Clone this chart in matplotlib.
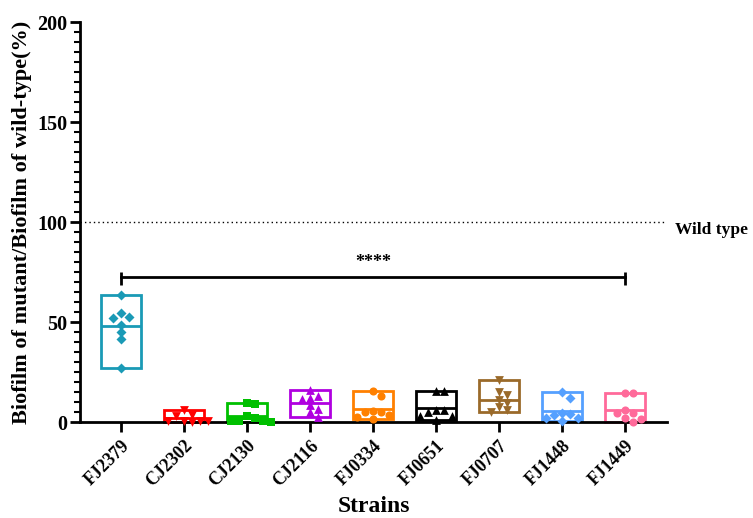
import matplotlib
matplotlib.use("Agg")
import matplotlib.pyplot as plt
import numpy as np

plt.rcParams['font.family'] = ['Liberation Serif', 'DejaVu Serif']
plt.rcParams['font.weight'] = 'bold'

strains = ["FJ2379", "CJ2302", "CJ2130", "CJ2116", "FJ0334",
           "FJ0651", "FJ0707", "FJ1448", "FJ1449"]
fj2379 = [63.5, 54.3, 52.6, 51.8, 48.5, 44.8, 41.5, 26.8]
cj2302 = [6.0, 3.5, 3.0, 0.6, 0.5, 0.4, 0.3, 0.2]
cj2130 = [9.7, 8.8, 3.0, 2.2, 0.5, 0.4, 0.3, 0.2]
cj2116 = [16.0, 13.0, 12.2, 11.3, 8.5, 6.3, 5.0, 2.5]
fj0334 = [15.5, 13.2, 5.5, 5.2, 5.0, 3.5, 2.5, 1.5]
fj0651 = [15.5, 15.5, 6.0, 6.0, 5.0, 3.0, 3.0, 1.0]
fj0707 = [21.0, 15.0, 13.5, 11.0, 9.5, 7.5, 6.0, 4.8]
fj1448 = [15.2, 12.0, 4.7, 4.0, 3.5, 2.0, 1.8, 0.7]
fj1449 = [14.5, 14.5, 6.0, 4.3, 4.3, 1.8, 1.5, 0.2]
groups = [fj2379, cj2302, cj2130, cj2116, fj0334, fj0651, fj0707, fj1448, fj1449]
wild_type = 100
sig_level = 72.5
sig_text = "****"

colors = ["#1a9ab6", "#ff0000", "#00c000", "#b000e0", "#ff8000",
          "#000000", "#9a6a2a", "#55a0ff", "#ff6a9a"]
markers = ["D", "v", "s", "^", "o", "^", "v", "D", "o"]
msizes = [26, 40, 34, 40, 34, 40, 40, 26, 34]

W, H = 753, 518
fig = plt.figure(figsize=(W / 100, H / 100), dpi=100)
ax = fig.add_axes([80 / W, (H - 422) / H, (667 - 80) / W, 400 / H])
ax.set_xlim(-0.651, 8.667)
ax.set_ylim(0, 200)

px_x = 63.0   # px per category unit
px_y = 2.0    # px per value unit


def swarm(vals, thr=6.5, step=8.0):
    placed = []
    order = sorted(range(len(vals)), key=lambda k: -vals[k])
    res = [0.0] * len(vals)
    for k in order:
        v = vals[k]
        cands = [0.0]
        for m in range(1, 10):
            cands += [m * step, -m * step]
        for c in cands:
            ok = True
            for (pv, pc) in placed:
                if np.hypot((v - pv) * px_y, c - pc) < thr:
                    ok = False
                    break
            if ok:
                break
        placed.append((v, c))
        res[k] = c / px_x
    return res


bw = 0.64
for i, vals in enumerate(groups):
    lo, hi, mean = min(vals), max(vals), float(np.mean(vals))
    ax.bar(i, hi - lo, bottom=lo, width=bw, fill=False, edgecolor=colors[i],
           linewidth=2.0, zorder=2, clip_on=False)
    ax.hlines(mean, i - bw / 2, i + bw / 2, colors=colors[i], linewidth=2.0, zorder=2)
    offs = swarm(vals)
    ax.scatter(np.array(offs) + i, vals, marker=markers[i], s=msizes[i],
               color=colors[i], linewidths=0, zorder=3, clip_on=False)

# wild type reference
ax.axhline(wild_type, color="black", linestyle=(0, (1, 2.2)), linewidth=1.0, zorder=1)
ax.text(1.013, wild_type, "Wild type", transform=ax.get_yaxis_transform(),
        ha="left", va="top", fontsize=12.5, fontweight="bold")

# significance bracket
ax.plot([0, 8], [sig_level, sig_level], color="black", linewidth=2.0, zorder=2)
ax.vlines([0, 8], sig_level - 4, sig_level + 2.5, color="black", linewidth=2.0)
ax.text(4, sig_level + 3, sig_text, ha="center", va="bottom", fontsize=13, fontweight="bold")

# axes styling
for s in ["top", "right"]:
    ax.spines[s].set_visible(False)
for s in ["left", "bottom"]:
    ax.spines[s].set_linewidth(2.0)
ax.set_yticks([0, 50, 100, 150, 200])
ax.set_yticks(np.arange(0, 201, 5), minor=True)
ax.tick_params(axis="y", which="major", length=7, width=2.0, labelsize=14.5, pad=2)
ax.tick_params(axis="y", which="minor", length=4, width=1.5)
ax.set_xticks(range(len(strains)))
ax.set_xticklabels(strains, rotation=45, ha="right", rotation_mode="anchor",
                   fontsize=13, fontweight="bold")
ax.tick_params(axis="x", length=7, width=2.0, pad=4)
for lab in ax.get_yticklabels():
    lab.set_fontweight("bold")

ax.set_ylabel("Biofilm of mutant/Biofilm of wild-type(%)", fontsize=16,
              fontweight="bold", labelpad=4)
ax.set_xlabel("Strains", fontsize=17, fontweight="bold", labelpad=4)

fig.savefig("out.png", dpi=100)
